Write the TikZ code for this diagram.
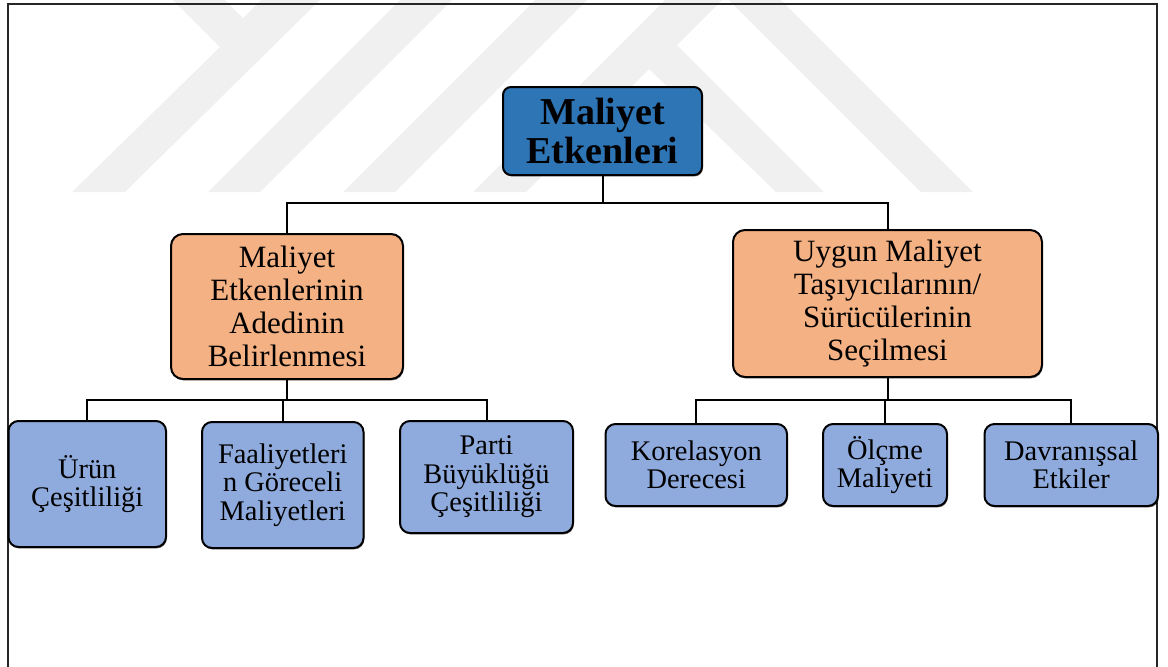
\documentclass[tikz,border=0pt]{standalone}
\usepackage{fontspec}
\setmainfont{Liberation Serif}
\usetikzlibrary{shadows}
\definecolor{rootblue}{HTML}{2E75B6}
\definecolor{midorange}{HTML}{F4B183}
\definecolor{leafblue}{HTML}{8FAADC}
\definecolor{markgray}{HTML}{F0F0F0}
\begin{document}
\begin{tikzpicture}[x=0.5pt,y=-0.5pt,
  box/.style={draw=black, line width=1pt, align=center, inner sep=0pt,
    drop shadow={shadow xshift=0.4pt, shadow yshift=-0.7pt, opacity=0.55, fill=black}},
  rootbox/.style={box, fill=rootblue, rounded corners=4pt,
    minimum width=99.5pt, minimum height=44pt,
    font=\fontsize{19}{19.5}\selectfont\bfseries},
  midbox/.style={box, fill=midorange, rounded corners=6pt,
    font=\fontsize{15.5}{16.5}\selectfont},
  leafbox/.style={box, fill=leafblue, rounded corners=5pt,
    font=\fontsize{14.2}{14.2}\selectfont},
  link/.style={line width=1pt, draw=black},
  frameline/.style={line width=1pt, draw=black!85},
  markshape/.style={fill=markgray, draw=none}]

\useasboundingbox (0,0) rectangle (1168,666);

% faint background emblem
\begin{scope}
  \clip (0,0) rectangle (1168,666);
  \fill[markshape] (173,0) -- (220,47) -- (72,192) -- (125,192) -- (320,0)
        -- (261,0) -- (243,18) -- (225,0) -- cycle;
  \fill[markshape] (208,192) -- (260,192) -- (452,0) -- (400,0) -- cycle;
  \fill[markshape] (343,192) -- (395,192) -- (587,0) -- (535,0) -- cycle;
  \fill[markshape] (473,192) -- (665,0) -- (781,0) -- (973,192) -- (921,192)
        -- (729,0) -- (722,0) -- (677,45) -- (824,192) -- (776,192)
        -- (649,69) -- (526,192) -- cycle;
\end{scope}

% page frame, open at the bottom
\draw[frameline] (8,680) -- (8,4) -- (1157,4) -- (1157,680);

% boxes
\node[rootbox] (root) at (602.5,131) {Maliyet\\Etkenleri};

\node[midbox, minimum width=116pt, minimum height=72.5pt] (m1) at (287,306.5)
  {Maliyet\\Etkenlerinin\\Adedinin\\Belirlenmesi};
\node[midbox, minimum width=154.5pt, minimum height=73.5pt] (m2) at (887.5,303.5)
  {Uygun Maliyet\\Taşıyıcılarının/\\Sürücülerinin\\Seçilmesi};

\node[leafbox, minimum width=78.75pt, minimum height=63pt] (l1) at (87.25,484)
  {Ürün\\Çeşitliliği};
\node[leafbox, minimum width=80.75pt, minimum height=63pt] (l2) at (282.75,485)
  {Faaliyetleri\\n Göreceli\\Maliyetleri};
\node[leafbox, minimum width=86.5pt, minimum height=56pt] (l3) at (486.5,477)
  {Parti\\Büyüklüğü\\Çeşitliliği};

\node[leafbox, minimum width=90.75pt, minimum height=41pt] (r1) at (696.25,465)
  {Korelasyon\\Derecesi};
\node[leafbox, minimum width=62pt, minimum height=41pt] (r2) at (885,465)
  {Ölçme\\Maliyeti};
\node[leafbox, minimum width=86.75pt, minimum height=41pt] (r3) at (1071.25,465)
  {Davranışsal\\Etkiler};

% connectors
\coordinate (topbus) at (0,203);
\coordinate (lowbus) at (0,400);

\draw[link] (root.south) -- (root.south |- topbus) -| (m1.north);
\draw[link] (root.south |- topbus) -| (m2.north);

\draw[link] (m1.south) -- (m1.south |- lowbus) -| (l1.north);
\draw[link] (m1.south |- lowbus) -| (l2.north);
\draw[link] (m1.south |- lowbus) -| (l3.north);

\draw[link] (m2.south) -- (m2.south |- lowbus) -| (r1.north);
\draw[link] (m2.south |- lowbus) -| (r2.north);
\draw[link] (m2.south |- lowbus) -| (r3.north);
\end{tikzpicture}
\end{document}
